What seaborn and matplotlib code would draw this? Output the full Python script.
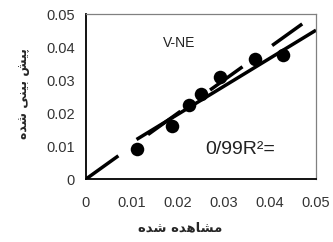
import numpy as np
import pandas as pd
import seaborn as sns
import matplotlib.pyplot as plt

# observed vs predicted values
observed = [0.0110, 0.0188, 0.0225, 0.0250, 0.0291, 0.0367, 0.0428]
predicted = [0.0090, 0.0161, 0.0224, 0.0257, 0.0310, 0.0363, 0.0376]

# fitted trend line (as drawn) and 1:1 reference line
trend_slope = 0.849
trend_intercept = 0.00266
trend_range = [0.011, 0.050]
ref_range = [0.0, 0.047]

ticks = [0, 0.01, 0.02, 0.03, 0.04, 0.05]
tick_labels = ['0', '0.01', '0.02', '0.03', '0.04', '0.05']

x_label = 'مشاهده شده'
y_label = 'پیش بینی شده'
station = 'V-NE'
r2_text = '0/99R²='

# matplotlib has no arabic shaping, so map to presentation forms by hand
FORMS = {
    'پ': (0xFB56, 0xFB57, 0xFB58, 0xFB59),
    'ی': (0xFBFC, 0xFBFD, 0xFBFE, 0xFBFF),
    'ش': (0xFEB5, 0xFEB6, 0xFEB7, 0xFEB8),
    'ب': (0xFE8F, 0xFE90, 0xFE91, 0xFE92),
    'ن': (0xFEE5, 0xFEE6, 0xFEE7, 0xFEE8),
    'ه': (0xFEE9, 0xFEEA, 0xFEEB, 0xFEEC),
    'م': (0xFEE1, 0xFEE2, 0xFEE3, 0xFEE4),
    'د': (0xFEA9, 0xFEAA, None, None),
    'ا': (0xFE8D, 0xFE8E, None, None),
}


def shape(text):
    out = []
    for i, ch in enumerate(text):
        if ch not in FORMS:
            out.append(ch)
            continue
        iso, fin, ini, med = FORMS[ch]
        prev = text[i - 1] if i > 0 else ''
        nxt = text[i + 1] if i + 1 < len(text) else ''
        join_prev = prev in FORMS and FORMS[prev][2] is not None
        join_next = ini is not None and nxt in FORMS
        if join_prev and join_next:
            code = med
        elif join_prev:
            code = fin
        elif join_next:
            code = ini
        else:
            code = iso
        out.append(chr(code))
    return ''.join(out[::-1])


sns.set_style('white')
plt.rcParams['font.family'] = ['Liberation Sans', 'DejaVu Sans']

df = pd.DataFrame({'observed': observed, 'predicted': predicted})

fig = plt.figure(figsize=(3.33, 2.42), dpi=100)
ax = fig.add_axes([0.258, 0.260, 0.691, 0.682])

tx = np.array(trend_range)
ax.plot(tx, trend_slope * tx + trend_intercept, color='black', lw=2.5,
        solid_capstyle='butt', zorder=2)
ax.plot(ref_range, ref_range, color='black', lw=2.5, dashes=(11.5, 10.5),
        dash_capstyle='butt', zorder=2)
sns.scatterplot(data=df, x='observed', y='predicted', color='black', s=95,
                edgecolor='black', linewidth=0, ax=ax, zorder=3)

ax.set_xlim(0, 0.05)
ax.set_ylim(0, 0.05)
ax.set_xticks(ticks)
ax.set_xticklabels(tick_labels)
ax.set_yticks(ticks)
ax.set_yticklabels(tick_labels)
ax.tick_params(axis='x', length=0, pad=12, labelsize=10.5, labelcolor='#333333')
ax.tick_params(axis='y', length=6, width=1, direction='out', pad=2,
               labelsize=10.5, labelcolor='#333333', color='black')

for side in ['left', 'bottom']:
    ax.spines[side].set_color('black')
    ax.spines[side].set_linewidth(1.3)
for side in ['top', 'right']:
    ax.spines[side].set_color('#808080')
    ax.spines[side].set_linewidth(0.9)

ax.text(0.0202, 0.0412, station, fontsize=10, ha='center', va='center', color='#222222')
ax.text(0.0335, 0.0091, r2_text, fontsize=14, ha='center', va='center', color='#222222')

ax.set_xlabel(shape(x_label), fontsize=9.5, fontweight='bold', family='DejaVu Sans')
ax.set_ylabel(shape(y_label), fontsize=9, fontweight='bold', family='DejaVu Sans')
ax.xaxis.set_label_coords(0.41, -0.255)
ax.yaxis.set_label_coords(-0.245, 0.52)

fig.savefig('out.png', dpi=100)
